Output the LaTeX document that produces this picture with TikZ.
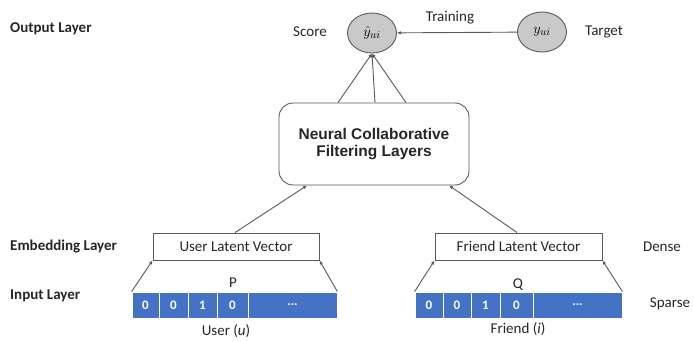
\documentclass[tikz,border=0pt]{standalone}
\usepackage{fontspec}
\setmainfont{Carlito}
\newfontfamily\arialf{Liberation Sans}
\usetikzlibrary{arrows.meta,shapes.geometric}
\definecolor{barblue}{HTML}{4472C4}
\definecolor{linegray}{HTML}{595959}
\definecolor{circfill}{HTML}{C9C9C9}
\definecolor{txt}{HTML}{262626}
\begin{document}
\begin{tikzpicture}[x=1pt,y=-1pt,
  lbl/.style={font=\fontsize{15}{17}\selectfont, text=txt, inner sep=0pt},
  layerlbl/.style={font=\fontsize{15}{17}\selectfont\bfseries, text=txt, inner sep=0pt, anchor=west},
  ell/.style={ellipse, draw=linegray, fill=circfill, line width=0.9pt, minimum width=49pt, minimum height=40pt, inner sep=0pt, font=\fontsize{15}{17}\selectfont},
  conn/.style={draw=linegray, line width=0.9pt, -{Latex[length=4pt,width=3.5pt]}},
  vecbox/.style={draw=linegray, line width=0.9pt, minimum height=27pt, inner sep=0pt, font=\fontsize{15}{17}\selectfont, text=txt},
  cell/.style={fill=barblue, draw=white, line width=0.8pt, minimum height=26pt, inner sep=0pt, text=white, font=\fontsize{13}{15}\selectfont\bfseries}
]
\useasboundingbox (0,0) rectangle (694,342);

% output layer
\node[ell] (yhat) at (372,33) {$\hat{y}_{ui}$};
\node[ell] (y) at (542,32) {$y_{ui}$};
\draw[conn] (y) -- (yhat);
\node[lbl] (train) at (450,18) {Training};
\node[lbl] (score) at (310,32) {Score};
\node[lbl] (target) at (604,32) {Target};

% NCF box
\node[draw=linegray, line width=0.9pt, rounded corners=14pt, minimum width=190pt, minimum height=82pt, align=center,
      font=\arialf\bfseries\fontsize{15.5}{17.5}\selectfont, text=txt] (ncf) at (374,144)
      {Neural Collaborative\\Filtering Layers};
\draw[conn] ([xshift=-36pt]ncf.north) -- (yhat.south);
\draw[conn] ([xshift=1pt]ncf.north) -- (yhat.south);
\draw[conn] ([xshift=32pt]ncf.north) -- (yhat.south);

% embedding boxes
\node[vecbox, minimum width=166pt] (user) at (236,246.5) {User Latent Vector};
\node[vecbox, minimum width=167pt] (friend) at (518.5,246.5) {Friend Latent Vector};
\draw[conn] ([xshift=-1pt]user.north) -- ([xshift=-67pt]ncf.south);
\draw[conn] ([xshift=-1.5pt]friend.north) -- ([xshift=75pt]ncf.south);

% user input bar
\node[cell, minimum width=27pt] (u0) at (145.5,305) {0};
\node[cell, minimum width=29pt] (u1) at (173.5,305) {0};
\node[cell, minimum width=29pt] (u2) at (202.5,305) {1};
\node[cell, minimum width=31pt] (u3) at (232.5,305) {0};
\node[cell, minimum width=89pt] (u4) at (292.5,305) {...};
\draw[conn] (u0.north west) -- (user.south west);
\draw[conn] (u4.north east) -- (user.south east);
\node[lbl] (p) at (233,283) {P};
\node[lbl] (uu) at (226,331) {User (\textit{u})};

% friend input bar
\node[cell, minimum width=28pt] (f0) at (429,305) {0};
\node[cell, minimum width=28pt] (f1) at (457,305) {0};
\node[cell, minimum width=29pt] (f2) at (485.5,305) {1};
\node[cell, minimum width=33pt] (f3) at (516.5,305) {0};
\node[cell, minimum width=89pt] (f4) at (577.5,305) {...};
\draw[conn] (f0.north west) -- (friend.south west);
\draw[conn] (f4.north east) -- (friend.south east);
\node[lbl] (q) at (518,285) {Q};
\node[lbl] (fi) at (518,329) {Friend (\textit{i})};

% right labels
\node[lbl] (dense) at (662,247) {Dense};
\node[lbl] (sparse) at (670,304) {Sparse};

% left labels
\node[layerlbl] (outl) at (10,29) {Output Layer};
\node[layerlbl] (embl) at (10,247) {Embedding Layer};
\node[layerlbl] (inl) at (10,296) {Input Layer};
\end{tikzpicture}
\end{document}
